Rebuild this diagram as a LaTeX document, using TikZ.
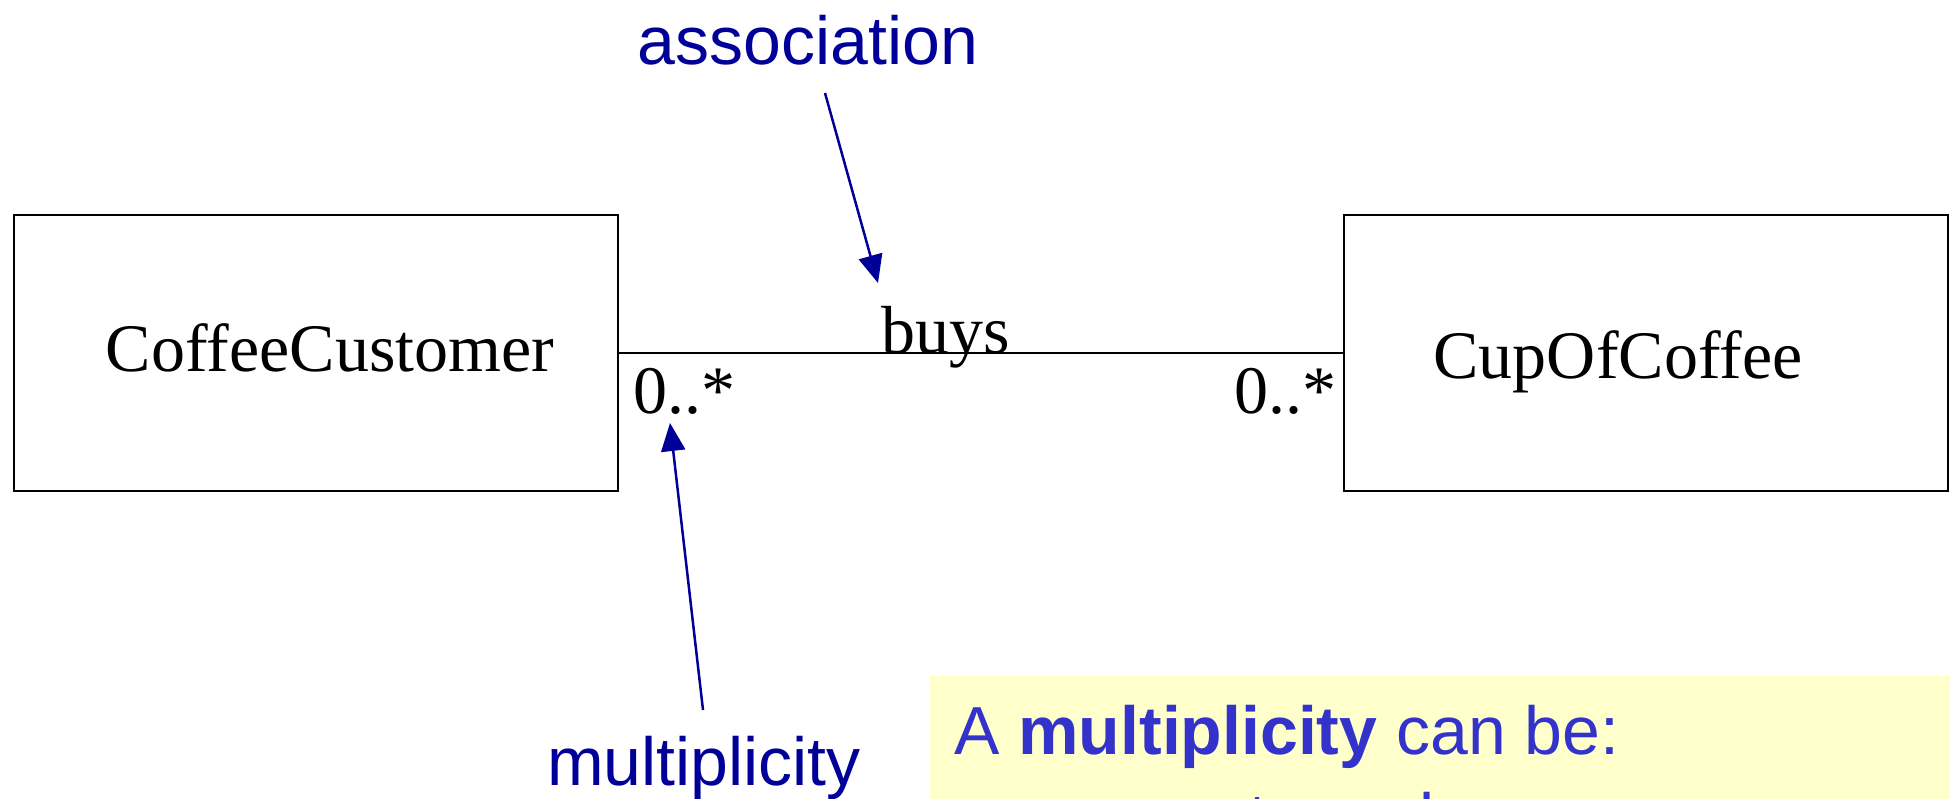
\documentclass[tikz,border=0pt]{standalone}
\usepackage{fontspec}
\setmainfont{Liberation Serif}
\newfontfamily\helv{Liberation Sans}
\usetikzlibrary{arrows.meta}
\definecolor{lblblue}{HTML}{000099}
\definecolor{notetext}{HTML}{3333CC}
\definecolor{notefill}{HTML}{FFFFCC}
\begin{document}
\begin{tikzpicture}[x=1pt,y=-1pt,
  classbox/.style={draw=black,line width=2.5pt,minimum width=604pt,minimum height=276pt,inner sep=0pt},
  serif/.style={font=\fontsize{68}{80}\selectfont,inner sep=0pt,anchor=base},
  callout/.style={font=\helv\fontsize{68}{80}\selectfont,text=lblblue,inner sep=0pt,anchor=base},
  notestyle/.style={font=\helv\fontsize{68}{80}\selectfont,text=notetext,inner sep=0pt,anchor=base west},
  pointer/.style={draw=lblblue,line width=2.5pt,-{Triangle[length=28pt,width=24pt]}},
  assocline/.style={draw=black,line width=2.5pt}]
\useasboundingbox (0,0) rectangle (1950,798);
\clip (0,0) rectangle (1950,798);
\fill[white] (0,0) rectangle (1950,798);
% classes
\node[classbox] (cust) at (316,353) {};
\node[classbox] (cup) at (1646,353) {};
\node[serif] (custname) at (330,371) {CoffeeCustomer};
\node[serif] (cupname) at (1618,378) {CupOfCoffee};
% association
\draw[assocline] (cust.east) -- (cup.west);
\node[serif] (buys) at (946,353) {buys};
\node[serif,anchor=base west] (multL) at (633,413) {0..*};
\node[serif,anchor=base east] (multR) at (1337,413) {0..*};
% callouts
\node[callout] (assoc) at (808,64) {association};
\coordinate (a1s) at (825,93);
\coordinate (a1e) at (878,283);
\draw[pointer] (a1s) -- (a1e);
\node[callout] (multlbl) at (704,785) {multiplicity};
\coordinate (a2s) at (703,710);
\coordinate (a2e) at (670,423);
\draw[pointer] (a2s) -- (a2e);
% note
\fill[notefill] (930,676) rectangle (1970,820);
\node[notestyle] (note1) at (954,754) {A \textbf{multiplicity} can be:};
\node[notestyle] (note2) at (954,841) {– an exact number};
\end{tikzpicture}
\end{document}
